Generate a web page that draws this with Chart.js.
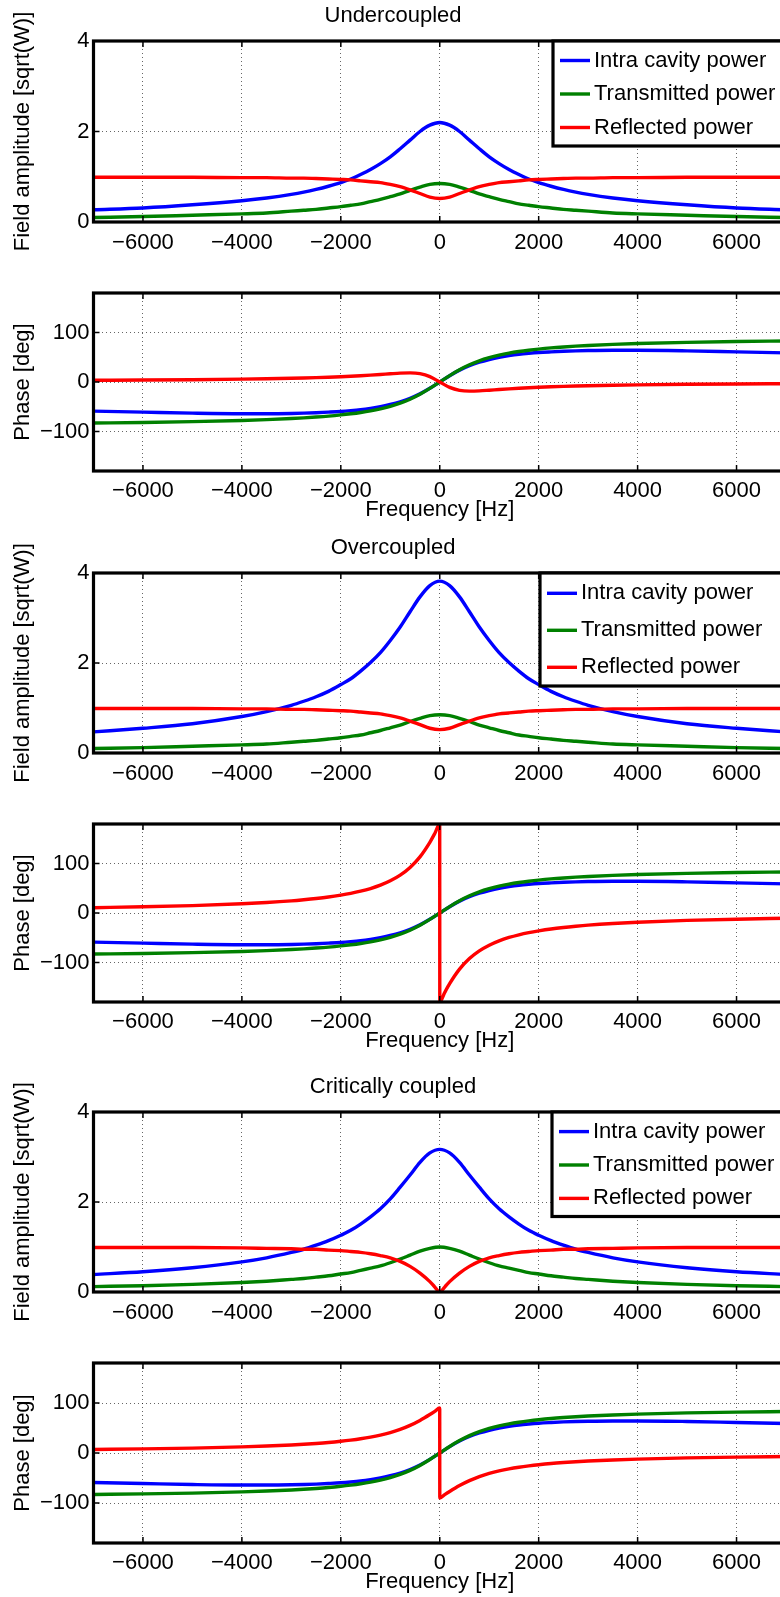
<!DOCTYPE html>
<html>
<head>
<meta charset="utf-8">
<script src="https://cdn.jsdelivr.net/npm/chart.js@4.4.0/dist/chart.umd.min.js"></script>
<style>
  html, body { margin: 0; padding: 0; background: #fff; }
  body { width: 780px; height: 1597px; overflow: hidden; position: relative; }
  canvas { position: absolute; left: 0; }
</style>
</head>
<body>
<canvas id="c1"></canvas>
<canvas id="c2"></canvas>
<canvas id="c3"></canvas>
<canvas id="c4"></canvas>
<canvas id="c5"></canvas>
<canvas id="c6"></canvas>
<script>
// frequency samples (Hz)
const freq = [-7000,-6000,-5000,-4000,-3500,-3000,-2750,-2500,-2250,-2000,-1800,-1600,-1400,-1200,-1000,-800,-600,-400,-200,0,
              200,400,600,800,1000,1200,1400,1600,1800,2000,2250,2500,2750,3000,3500,4000,5000,6000,7000];
// same samples, with extra points round 0 where a curve jumps or has a cusp
const freqJump = [-7000,-6000,-5000,-4000,-3500,-3000,-2750,-2500,-2250,-2000,-1800,-1600,-1400,-1200,-1000,-800,-600,-400,-200,
                  -100,-1,1,100,
                  200,400,600,800,1000,1200,1400,1600,1800,2000,2250,2500,2750,3000,3500,4000,5000,6000,7000];

const freqTicks = [-6000,-4000,-2000,0,2000,4000,6000];
const ampTicks = [0,2,4];
const phaseTicks = [-100,0,100];
const seriesLabels = ['Intra cavity power','Transmitted power','Reflected power'];
const panelTitles = ['Undercoupled','Overcoupled','Critically coupled'];

// Undercoupled
const underAmpIntra = [0.27,0.31,0.38,0.47,0.53,0.61,0.66,0.72,0.79,0.87,0.95,1.05,1.16,1.29,1.44,1.62,1.81,2.00,2.14,2.20,
                       2.14,2.00,1.81,1.62,1.44,1.29,1.16,1.05,0.95,0.87,0.79,0.72,0.66,0.61,0.53,0.47,0.38,0.31,0.27];
const underAmpTrans = [0.10,0.12,0.15,0.18,0.20,0.24,0.26,0.28,0.31,0.34,0.37,0.40,0.45,0.50,0.56,0.62,0.70,0.77,0.83,0.85,
                       0.83,0.77,0.70,0.62,0.56,0.50,0.45,0.40,0.37,0.34,0.31,0.28,0.26,0.24,0.20,0.18,0.15,0.12,0.10];
const underAmpRefl = [0.99,0.99,0.99,0.98,0.98,0.97,0.97,0.96,0.95,0.94,0.93,0.91,0.89,0.87,0.83,0.78,0.71,0.63,0.55,0.52,
                      0.55,0.63,0.71,0.78,0.83,0.87,0.89,0.91,0.93,0.94,0.95,0.96,0.97,0.97,0.98,0.98,0.99,0.99,0.99];
const underPhaseIntra = [-59,-61,-63,-64.1,-64.1,-63.6,-63,-62.2,-61,-59.6,-58,-56,-53.3,-50,-45.5,-40,-33,-24,-12.8,0,
                         12.8,24,33,40,45.5,50,53.3,56,58,59.6,61,62.2,63,63.6,64.1,64.1,63,61,59];
const underPhaseTrans = [-83.0,-81.8,-80.2,-77.8,-76.1,-73.9,-72.5,-70.9,-69.0,-66.6,-64.3,-61.6,-58.3,-54.2,-49.1,-42.8,-34.8,-24.8,-13.0,0,
                         13.0,24.8,34.8,42.8,49.1,54.2,58.3,61.6,64.3,66.6,69.0,70.9,72.5,73.9,76.1,77.8,80.2,81.8,83.0];
const underPhaseRefl = [3.4,3.9,4.7,5.8,6.6,7.6,8.2,8.9,9.7,10.7,11.6,12.7,13.9,15.2,16.6,17.9,18.4,16.8,11.0,0,
                        -11.0,-16.8,-18.4,-17.9,-16.6,-15.2,-13.9,-12.7,-11.6,-10.7,-9.7,-8.9,-8.2,-7.6,-6.6,-5.8,-4.7,-3.9,-3.4];

// Overcoupled
const overAmpIntra = [0.47,0.55,0.65,0.81,0.92,1.06,1.15,1.25,1.37,1.52,1.65,1.82,2.01,2.23,2.50,2.80,3.14,3.47,3.72,3.82,
                      3.72,3.47,3.14,2.80,2.50,2.23,2.01,1.82,1.65,1.52,1.37,1.25,1.15,1.06,0.92,0.81,0.65,0.55,0.47];
const overAmpTrans = [0.10,0.12,0.15,0.18,0.20,0.24,0.26,0.28,0.31,0.34,0.37,0.40,0.45,0.50,0.56,0.62,0.70,0.77,0.83,0.85,
                      0.83,0.77,0.70,0.62,0.56,0.50,0.45,0.40,0.37,0.34,0.31,0.28,0.26,0.24,0.20,0.18,0.15,0.12,0.10];
const overAmpRefl = [0.99,0.99,0.99,0.98,0.98,0.97,0.97,0.96,0.95,0.94,0.93,0.91,0.89,0.87,0.83,0.78,0.71,0.63,0.55,0.52,
                     0.55,0.63,0.71,0.78,0.83,0.87,0.89,0.91,0.93,0.94,0.95,0.96,0.97,0.97,0.98,0.98,0.99,0.99,0.99];
const overPhaseIntra = [-59,-61,-63,-64.1,-64.1,-63.6,-63,-62.2,-61,-59.6,-58,-56,-53.3,-50,-45.5,-40,-33,-24,-12.8,0,
                        12.8,24,33,40,45.5,50,53.3,56,58,59.6,61,62.2,63,63.6,64.1,64.1,63,61,59];
const overPhaseTrans = [-83.0,-81.8,-80.2,-77.8,-76.1,-73.9,-72.5,-70.9,-69.0,-66.6,-64.3,-61.6,-58.3,-54.2,-49.1,-42.8,-34.8,-24.8,-13.0,0,
                        13.0,24.8,34.8,42.8,49.1,54.2,58.3,61.6,64.3,66.6,69.0,70.9,72.5,73.9,76.1,77.8,80.2,81.8,83.0];
const overPhaseRefl = [10.7,12.5,15.0,18.6,21.2,24.6,26.8,29.3,32.3,36.1,39.7,44.1,49.5,56.3,65.1,76.6,92.1,113.6,143.0,
                       160.9,180,-180,-160.9,
                       -143.0,-113.6,-92.1,-76.6,-65.1,-56.3,-49.5,-44.1,-39.7,-36.1,-32.3,-29.3,-26.8,-24.6,-21.2,-18.6,-15.0,-12.5,-10.7];

// Critically coupled
const critAmpIntra = [0.39,0.45,0.54,0.67,0.76,0.88,0.95,1.04,1.14,1.26,1.37,1.51,1.67,1.85,2.07,2.33,2.60,2.88,3.09,3.17,
                      3.09,2.88,2.60,2.33,2.07,1.85,1.67,1.51,1.37,1.26,1.14,1.04,0.95,0.88,0.76,0.67,0.54,0.45,0.39];
const critAmpTrans = [0.12,0.14,0.17,0.21,0.24,0.28,0.30,0.33,0.36,0.40,0.43,0.48,0.53,0.58,0.65,0.73,0.82,0.91,0.97,1.00,
                      0.97,0.91,0.82,0.73,0.65,0.58,0.53,0.48,0.43,0.40,0.36,0.33,0.30,0.28,0.24,0.21,0.17,0.14,0.12];
const critAmpRefl = [0.99,0.99,0.99,0.98,0.97,0.96,0.95,0.95,0.93,0.92,0.90,0.88,0.85,0.81,0.76,0.68,0.57,0.42,0.23,
                     0.11,0.00,0.00,0.11,
                     0.23,0.42,0.57,0.68,0.76,0.81,0.85,0.88,0.90,0.92,0.93,0.95,0.95,0.96,0.97,0.98,0.99,0.99,0.99];
const critPhaseIntra = [-59,-61,-63,-64.1,-64.1,-63.6,-63,-62.2,-61,-59.6,-58,-56,-53.3,-50,-45.5,-40,-33,-24,-12.8,0,
                        12.8,24,33,40,45.5,50,53.3,56,58,59.6,61,62.2,63,63.6,64.1,64.1,63,61,59];
const critPhaseTrans = [-83.0,-81.8,-80.2,-77.8,-76.1,-73.9,-72.5,-70.9,-69.0,-66.6,-64.3,-61.6,-58.3,-54.2,-49.1,-42.8,-34.8,-24.8,-13.0,0,
                        13.0,24.8,34.8,42.8,49.1,54.2,58.3,61.6,64.3,66.6,69.0,70.9,72.5,73.9,76.1,77.8,80.2,81.8,83.0];
const critPhaseRefl = [7.0,8.2,9.8,12.2,13.9,16.1,17.5,19.1,21.0,23.4,25.7,28.4,31.7,35.8,40.9,47.2,55.3,65.2,77.0,
                       83.4,90,-90,-83.4,
                       -77.0,-65.2,-55.3,-47.2,-40.9,-35.8,-31.7,-28.4,-25.7,-23.4,-21.0,-19.1,-17.5,-16.1,-13.9,-12.2,-9.8,-8.2,-7.0];

const colors = ['#0000ff', '#008000', '#ff0000'];
const FONT = '"Liberation Sans", Arial, Helvetica, sans-serif';
Chart.defaults.font.family = FONT;
Chart.defaults.font.size = 22;
Chart.defaults.color = '#000';

// panel layout: T/B = pixel top/bottom of the plot box
const panels = [
  { id: 'c1', kind: 'amp', T: 41, B: 222, title: panelTitles[0],
    xs: [freq, freq, freq], ys: [underAmpIntra, underAmpTrans, underAmpRefl],
    legend: { left: 553, rows: [19.5, 53, 86.5], h: 105 } },
  { id: 'c2', kind: 'phase', T: 293, B: 471,
    xs: [freq, freq, freq], ys: [underPhaseIntra, underPhaseTrans, underPhaseRefl] },
  { id: 'c3', kind: 'amp', T: 573, B: 753, title: panelTitles[1],
    xs: [freq, freq, freq], ys: [overAmpIntra, overAmpTrans, overAmpRefl],
    legend: { left: 540, rows: [20.3, 57.3, 94.3], h: 113 } },
  { id: 'c4', kind: 'phase', T: 824, B: 1002,
    xs: [freq, freq, freqJump], ys: [overPhaseIntra, overPhaseTrans, overPhaseRefl] },
  { id: 'c5', kind: 'amp', T: 1112, B: 1292, title: panelTitles[2],
    xs: [freq, freq, freqJump], ys: [critAmpIntra, critAmpTrans, critAmpRefl],
    legend: { left: 552, rows: [19.6, 53, 86.4], h: 104.5 } },
  { id: 'c6', kind: 'phase', T: 1363, B: 1543,
    xs: [freq, freq, freqJump], ys: [critPhaseIntra, critPhaseTrans, critPhaseRefl] }
];

const CANVAS_W = 790;
const AXIS_LEFT = 93.5;
const LINE_W = 3.4;

// black box with inward ticks, matlab style
const framePlugin = {
  id: 'frame',
  afterDatasetsDraw(chart) {
    const { ctx, chartArea: a, scales } = chart;
    ctx.save();
    ctx.strokeStyle = '#000';
    ctx.lineWidth = 1.5;
    ctx.beginPath();
    scales.x.ticks.forEach(t => {
      const px = scales.x.getPixelForValue(t.value);
      ctx.moveTo(px, a.bottom); ctx.lineTo(px, a.bottom - 6);
      ctx.moveTo(px, a.top); ctx.lineTo(px, a.top + 6);
    });
    scales.y.ticks.forEach(t => {
      const py = scales.y.getPixelForValue(t.value);
      ctx.moveTo(a.left, py); ctx.lineTo(a.left + 6, py);
      ctx.moveTo(a.right, py); ctx.lineTo(a.right - 6, py);
    });
    ctx.stroke();
    ctx.lineWidth = 3.2;
    ctx.strokeRect(a.left, a.top, a.right - a.left, a.bottom - a.top);
    ctx.restore();
  }
};

// legend box in the top right corner of the plot
const boxLegend = {
  id: 'boxLegend',
  afterDraw(chart, args, opts) {
    if (!opts || !opts.rows) return;
    const { ctx, chartArea: a } = chart;
    const w = chart.width - opts.left + 10;
    ctx.save();
    ctx.fillStyle = '#fff';
    ctx.fillRect(opts.left, a.top, w, opts.h);
    ctx.lineWidth = 3.2;
    ctx.strokeStyle = '#000';
    ctx.strokeRect(opts.left, a.top, w, opts.h);
    ctx.font = '22px ' + FONT;
    ctx.textBaseline = 'middle';
    chart.data.datasets.forEach((ds, i) => {
      const y = a.top + opts.rows[i];
      ctx.strokeStyle = ds.borderColor;
      ctx.lineWidth = LINE_W;
      ctx.beginPath();
      ctx.moveTo(opts.left + 7, y);
      ctx.lineTo(opts.left + 37, y);
      ctx.stroke();
      ctx.fillStyle = '#000';
      ctx.fillText(ds.label, opts.left + 41, y);
    });
    ctx.restore();
  }
};

function fmt(v) {
  return v < 0 ? '\u2212' + Math.abs(v) : String(v);
}

panels.forEach(p => {
  const amp = p.kind === 'amp';
  const above = amp ? 45 : 20;
  const below = amp ? 50 : 62;
  const canvas = document.getElementById(p.id);
  canvas.width = CANVAS_W;
  canvas.height = above + (p.B - p.T) + below;
  canvas.style.top = (p.T - above) + 'px';

  const datasets = p.ys.map((vals, i) => ({
    label: seriesLabels[i],
    data: vals.map((v, j) => ({ x: p.xs[i][j], y: v })),
    borderColor: colors[i],
    backgroundColor: colors[i],
    borderWidth: LINE_W,
    pointRadius: 0,
    fill: false,
    cubicInterpolationMode: 'monotone',
    order: 3 - i
  }));

  new Chart(canvas, {
    type: 'line',
    data: { datasets: datasets },
    plugins: [framePlugin, boxLegend],
    options: {
      responsive: false,
      animation: false,
      events: [],
      layout: { padding: { top: amp ? 0 : above, right: 4, left: 0, bottom: 0 } },
      plugins: {
        legend: { display: false },
        tooltip: { enabled: false },
        title: {
          display: amp,
          text: p.title || '',
          color: '#000',
          font: { size: 22, weight: 'normal' },
          padding: { top: 6.8, bottom: 11.8 }
        },
        boxLegend: p.legend || {}
      },
      scales: {
        x: {
          type: 'linear',
          min: -7000,
          max: 7000,
          afterBuildTicks: s => { s.ticks = freqTicks.map(v => ({ value: v })); },
          afterFit: s => { s.height = below; },
          ticks: { callback: fmt, padding: amp ? 8 : 7, autoSkip: false, maxRotation: 0, color: '#000' },
          grid: { color: 'rgba(0,0,0,0.6)', lineWidth: 1, drawTicks: false },
          border: { display: false, dash: [1, 3] },
          title: {
            display: !amp,
            text: 'Frequency [Hz]',
            color: '#000',
            font: { size: 22 },
            padding: { top: 0, bottom: 10 }
          }
        },
        y: {
          type: 'linear',
          min: amp ? 0 : -180,
          max: amp ? 4 : 180,
          afterBuildTicks: s => { s.ticks = (amp ? ampTicks : phaseTicks).map(v => ({ value: v })); },
          afterFit: s => { s.width = AXIS_LEFT; },
          ticks: { callback: fmt, padding: 4, color: '#000' },
          grid: { color: 'rgba(0,0,0,0.6)', lineWidth: 1, drawTicks: false },
          border: { display: false, dash: [1, 3] },
          title: {
            display: true,
            text: amp ? 'Field amplitude [sqrt(W)]' : 'Phase [deg]',
            color: '#000',
            font: { size: 22 },
            padding: { top: 10, bottom: 0 }
          }
        }
      }
    }
  });
});
</script>
</body>
</html>
